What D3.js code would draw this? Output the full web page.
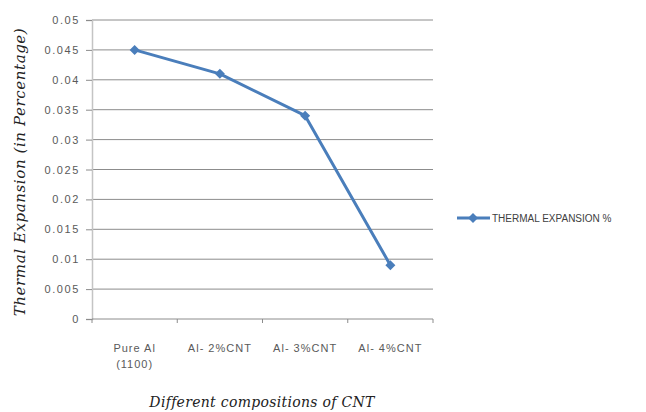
<!DOCTYPE html>
<html>
<head>
<meta charset="utf-8">
<script src="https://cdn.jsdelivr.net/npm/d3@7"></script>
<style>
  html, body { margin: 0; padding: 0; background: #fff; }
  svg { display: block; }
</style>
</head>
<body>
<svg id="chart" width="646" height="412"></svg>
<script>
// Thermal expansion for each composition
const categories = [["Pure Al", "(1100)"], ["Al- 2%CNT"], ["Al- 3%CNT"], ["Al- 4%CNT"]];
const expansion = [0.045, 0.041, 0.034, 0.009];
const yTicks = [0, 0.005, 0.01, 0.015, 0.02, 0.025, 0.03, 0.035, 0.04, 0.045, 0.05];
const seriesName = "THERMAL EXPANSION %";

const svg = d3.select("#chart");
const plotLeft = 92, plotRight = 433, plotTop = 20, plotBottom = 319;

const x = d3.scaleBand()
  .domain(categories.map((d, i) => i))
  .range([plotLeft, plotRight]);

const y = d3.scaleLinear()
  .domain([0, 0.05])
  .range([plotBottom, plotTop]);

const labelFont = "'Liberation Sans', Arial, sans-serif";
const serif = "'DejaVu Serif', 'Liberation Serif', serif";

// horizontal gridlines
svg.append("g")
  .selectAll("line")
  .data(yTicks.filter(t => t > 0))
  .join("line")
  .attr("x1", plotLeft).attr("x2", plotRight)
  .attr("y1", d => y(d)).attr("y2", d => y(d))
  .attr("stroke", "#8c8c8c").attr("stroke-width", 1);

// y axis
const yAxis = svg.append("g")
  .attr("transform", `translate(${plotLeft},0)`)
  .call(d3.axisLeft(y).tickValues(yTicks).tickFormat(d => String(+d.toFixed(3))).tickSize(6).tickPadding(6));
yAxis.select(".domain").attr("stroke", "#c4c4c4").attr("stroke-width", 1.5);
yAxis.selectAll(".tick line").attr("stroke", "#8c8c8c");
yAxis.selectAll("text")
  .attr("fill", "#5a5a5a")
  .style("font-family", labelFont)
  .style("font-size", "11px")
  .style("letter-spacing", "1.6px");

// x axis
const xAxis = svg.append("g")
  .attr("transform", `translate(0,${plotBottom})`);
xAxis.append("line")
  .attr("x1", plotLeft).attr("x2", plotRight)
  .attr("y1", 0).attr("y2", 0)
  .attr("stroke", "#8c8c8c").attr("stroke-width", 1);
const xTickPos = categories.map((d, i) => x(i)).concat([x(categories.length - 1) + x.bandwidth()]);
xAxis.selectAll(".xt")
  .data(xTickPos)
  .join("line")
  .attr("class", "xt")
  .attr("x1", d => d).attr("x2", d => d)
  .attr("y1", 0).attr("y2", 4)
  .attr("stroke", "#8c8c8c");

const xl = svg.append("g")
  .selectAll("text")
  .data(categories)
  .join("text")
  .attr("x", (d, i) => x(i) + x.bandwidth() / 2)
  .attr("y", plotBottom + 33)
  .attr("text-anchor", "middle")
  .attr("fill", "#5a5a5a")
  .style("font-family", labelFont)
  .style("font-size", "11px")
  .style("letter-spacing", "1px");
xl.each(function(d) {
  const t = d3.select(this);
  d.forEach((line, k) => {
    t.append("tspan")
      .attr("x", t.attr("x"))
      .attr("dy", k === 0 ? 0 : 16)
      .text(line);
  });
});

// series line
const pts = expansion.map((v, i) => [x(i) + x.bandwidth() / 2, y(v)]);
svg.append("path")
  .datum(pts)
  .attr("d", d3.line())
  .attr("fill", "none")
  .attr("stroke", "#4a7ebb")
  .attr("stroke-width", 3)
  .attr("stroke-linejoin", "round");

// square-proportioned diamond marker
const diamondPath = "M0,-5L5,0L0,5L-5,0Z";
svg.append("g")
  .selectAll("path")
  .data(pts)
  .join("path")
  .attr("transform", d => `translate(${d[0]},${d[1]})`)
  .attr("d", diamondPath)
  .attr("fill", "#4a7ebb");

// legend
const lg = svg.append("g").attr("transform", "translate(457,218)");
lg.append("line").attr("x1", 0).attr("x2", 33).attr("y1", 0).attr("y2", 0)
  .attr("stroke", "#4a7ebb").attr("stroke-width", 3);
lg.append("path").attr("transform", "translate(16,0)").attr("d", diamondPath).attr("fill", "#4a7ebb");
lg.append("text")
  .attr("x", 35).attr("y", 4)
  .attr("fill", "#404040")
  .style("font-family", labelFont)
  .style("font-size", "10px")
  .text(seriesName);

// axis titles
svg.append("text")
  .attr("transform", "translate(25,172) rotate(-90)")
  .attr("text-anchor", "middle")
  .attr("fill", "#222")
  .style("font-family", serif)
  .style("font-style", "italic")
  .style("font-size", "15px")
  .style("letter-spacing", "0.6px")
  .text("Thermal Expansion  (in  Percentage)");

svg.append("text")
  .attr("x", 262).attr("y", 407)
  .attr("text-anchor", "middle")
  .attr("fill", "#222")
  .style("font-family", serif)
  .style("font-style", "italic")
  .style("font-size", "14px")
  .style("letter-spacing", "0.3px")
  .text("Different compositions of CNT");
</script>
</body>
</html>
